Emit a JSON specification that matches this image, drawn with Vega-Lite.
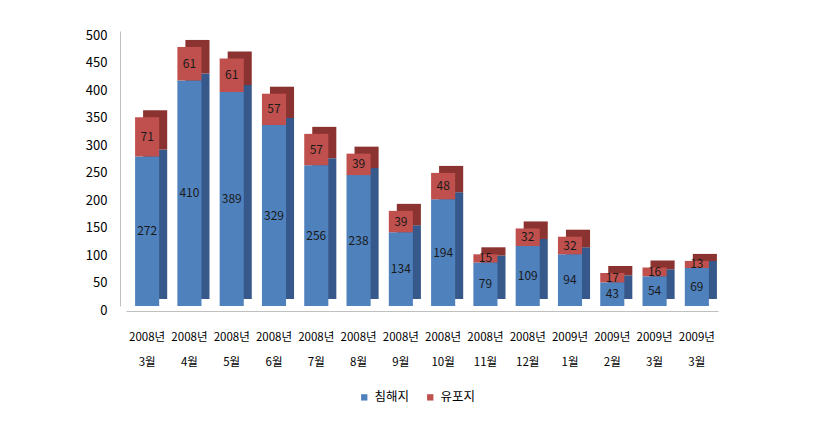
{
  "$schema": "https://vega.github.io/schema/vega-lite/v6.json",
  "width": 592,
  "height": 275,
  "autosize": {"type": "none"},
  "padding": {"left": 126, "top": 31, "right": 113, "bottom": 115},
  "background": "white",
  "config": {
    "view": {"stroke": null},
    "font": "Noto Sans CJK KR"
  },
  "data": {
    "values": [
      {"cat": "2008년/3월", "series": "침해지", "value": 272},
      {"cat": "2008년/3월", "series": "유포지", "value": 71},
      {"cat": "2008년/4월", "series": "침해지", "value": 410},
      {"cat": "2008년/4월", "series": "유포지", "value": 61},
      {"cat": "2008년/5월", "series": "침해지", "value": 389},
      {"cat": "2008년/5월", "series": "유포지", "value": 61},
      {"cat": "2008년/6월", "series": "침해지", "value": 329},
      {"cat": "2008년/6월", "series": "유포지", "value": 57},
      {"cat": "2008년/7월", "series": "침해지", "value": 256},
      {"cat": "2008년/7월", "series": "유포지", "value": 57},
      {"cat": "2008년/8월", "series": "침해지", "value": 238},
      {"cat": "2008년/8월", "series": "유포지", "value": 39},
      {"cat": "2008년/9월", "series": "침해지", "value": 134},
      {"cat": "2008년/9월", "series": "유포지", "value": 39},
      {"cat": "2008년/10월", "series": "침해지", "value": 194},
      {"cat": "2008년/10월", "series": "유포지", "value": 48},
      {"cat": "2008년/11월", "series": "침해지", "value": 79},
      {"cat": "2008년/11월", "series": "유포지", "value": 15},
      {"cat": "2008년/12월", "series": "침해지", "value": 109},
      {"cat": "2008년/12월", "series": "유포지", "value": 32},
      {"cat": "2009년/1월", "series": "침해지", "value": 94},
      {"cat": "2009년/1월", "series": "유포지", "value": 32},
      {"cat": "2009년/2월", "series": "침해지", "value": 43},
      {"cat": "2009년/2월", "series": "유포지", "value": 17},
      {"cat": "2009년/3월", "series": "침해지", "value": 54},
      {"cat": "2009년/3월", "series": "유포지", "value": 16},
      {"cat": "2009년/3월/b", "series": "침해지", "value": 69},
      {"cat": "2009년/3월/b", "series": "유포지", "value": 13}
    ]
  },
  "transform": [
    {"stack": "value", "groupby": ["cat"], "sort": [{"field": "series", "order": "descending"}], "as": ["v0", "v1"]},
    {"calculate": "(datum.v0 + datum.v1) / 2", "as": "mid"}
  ],
  "encoding": {
    "x": {
      "field": "cat", "type": "nominal", "sort": null, "title": null,
      "scale": {"paddingInner": 0.43, "paddingOuter": 0.215},
      "axis": {
        "labelExpr": "slice(split(datum.value, '/'), 0, 2)",
        "labelAngle": 0, "labelFontSize": 11.5, "labelColor": "#000000",
        "labelLineHeight": 25, "labelPadding": 20, "ticks": false,
        "domain": true, "domainColor": "#BFBFBF", "offset": 5
      }
    },
    "y": {
      "field": "v0", "type": "quantitative", "title": null,
      "scale": {"domain": [0, 500], "nice": false},
      "axis": {
        "values": [0, 50, 100, 150, 200, 250, 300, 350, 400, 450, 500],
        "labelOverlap": false,
        "grid": false, "ticks": false, "domainColor": "#BFBFBF",
        "offset": 6, "labelPadding": 13, "labelFontSize": 13,
        "labelColor": "#000000", "labelOffset": 4
      }
    },
    "y2": {"field": "v1"}
  },
  "resolve": {"scale": {"color": "independent"}, "legend": {"color": "independent"}},
  "layer": [
    {
      "mark": {"type": "bar", "xOffset": 8, "yOffset": -7, "y2Offset": -7},
      "encoding": {
        "color": {
          "field": "series", "type": "nominal",
          "scale": {"domain": ["침해지", "유포지"], "range": ["#36588A", "#8B3330"]},
          "legend": null
        }
      }
    },
    {
      "mark": {"type": "bar"},
      "encoding": {
        "color": {
          "field": "series", "type": "nominal",
          "scale": {"domain": ["침해지", "유포지"], "range": ["#4F81BD", "#C0504D"]},
          "legend": {
            "title": null, "orient": "none", "direction": "horizontal",
            "legendX": 232, "legendY": 360, "symbolType": "square",
            "symbolSize": 40, "labelFontSize": 12.5, "labelColor": "#000000",
            "columnPadding": 14
          }
        }
      }
    },
    {
      "mark": {"type": "text", "fontSize": 12, "color": "#1A1A1A", "dy": 0},
      "encoding": {
        "y": {
          "field": "mid", "type": "quantitative", "title": null,
          "scale": {"domain": [0, 500], "nice": false},
          "axis": {
            "values": [0, 50, 100, 150, 200, 250, 300, 350, 400, 450, 500],
            "labelOverlap": false,
            "grid": false, "ticks": false, "domainColor": "#BFBFBF",
            "offset": 6, "labelPadding": 13, "labelFontSize": 13,
            "labelColor": "#000000", "labelOffset": 4
          }
        },
        "y2": null,
        "text": {"field": "value", "type": "quantitative"}
      }
    }
  ]
}
